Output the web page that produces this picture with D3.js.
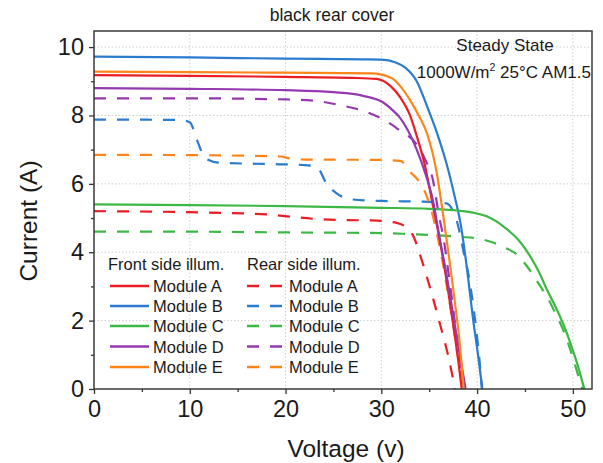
<!DOCTYPE html>
<html><head><meta charset="utf-8">
<script src="https://cdn.jsdelivr.net/npm/d3@7"></script>
<style>
html,body{margin:0;padding:0;background:#fff;}
svg{display:block;font-family:"Liberation Sans",Arial,sans-serif;}
</style>
</head><body>
<svg id="chart" width="603" height="463"></svg>
<script>
// ---- data (Voltage V, Current A) ----
const modules = ["Module A","Module B","Module C","Module D","Module E"];
const colors = ["#ec1c24","#2b7bcf","#3cb944","#9539b0","#ff8419"];
const frontA = [[0,9.18],[10,9.16],[20,9.13],[27,9.1],[29.5,9.07],[31,8.85],[32,8.52],[33,8.0],[33.7,7.4],[34.5,6.6],[35.4,5.35],[36.1,4.36],[36.8,3.2],[37.5,1.9],[38.0,0.9],[38.4,0]];
const frontB = [[0,9.72],[10,9.7],[20,9.66],[28,9.64],[30,9.63],[31.5,9.55],[32.5,9.4],[33.7,9.0],[34.8,8.25],[35.8,7.5],[36.8,6.6],[37.6,5.7],[38.3,4.8],[39.0,3.4],[39.6,2.0],[40.1,1.0],[40.55,0]];
const frontC = [[0,5.4],[10,5.38],[20,5.35],[30,5.3],[35,5.27],[38,5.22],[41,5.05],[43,4.7],[44.5,4.3],[45.5,3.9],[46.5,3.4],[47.3,2.9],[48.2,2.4],[49,1.9],[49.8,1.3],[50.5,0.7],[51.2,0]];
const frontD = [[0,8.8],[10,8.78],[20,8.74],[25,8.68],[28,8.58],[30.2,8.38],[31.2,8.15],[31.9,7.95],[32.8,7.55],[33.7,7.0],[34.6,6.3],[35.4,5.5],[36.1,4.4],[36.9,3.2],[37.6,2.0],[38.2,1.0],[38.8,0]];
const frontE = [[0,9.28],[10,9.27],[20,9.25],[29,9.23],[31,9.1],[32,8.85],[33,8.45],[34,7.95],[34.8,7.45],[35.8,6.3],[36.5,5.0],[37.1,3.8],[37.7,2.5],[38.2,1.3],[38.6,0]];
const rearA = [[0,5.2],[10,5.17],[18.4,5.1],[20.5,5.04],[23.3,4.97],[26,4.94],[29,4.93],[31.6,4.86],[32.5,4.75],[33.2,4.55],[34.3,3.7],[35.2,2.85],[36.1,1.93],[37,0.95],[37.7,0]];
const rearB = [[0,7.88],[9,7.87],[10,7.8],[10.8,7.25],[11.6,6.75],[13,6.62],[18,6.58],[22,6.55],[23.3,6.48],[24.3,6.0],[25.3,5.73],[26.7,5.55],[30,5.5],[34.3,5.48],[36.8,5.43],[37.5,5.2],[37.9,4.9],[38.6,4.0],[39.2,3.2],[39.8,2.0],[40.2,1.0],[40.5,0]];
const rearC = [[0,4.6],[10,4.6],[20,4.58],[30,4.56],[33,4.53],[36.8,4.48],[38.2,4.45],[40.3,4.39],[41.5,4.3],[42.7,4.16],[44.2,3.92],[45.5,3.48],[46.5,3.05],[47.3,2.7],[48.2,2.2],[49,1.72],[49.8,1.1],[50.5,0.45],[51.0,0]];
const rearD = [[0,8.5],[10,8.5],[20,8.47],[23,8.43],[25.7,8.3],[28.5,8.1],[30.6,7.82],[31.9,7.57],[33.7,7.15],[34.6,6.7],[35.4,6.1],[36.0,5.1],[36.5,4.4],[37.2,3.0],[37.8,1.7],[38.2,0.9],[38.6,0]];
const rearE = [[0,6.85],[10,6.84],[19.5,6.8],[20.5,6.74],[22,6.71],[30,6.7],[32,6.67],[33,6.35],[34,6.05],[34.8,5.6],[35.1,5.35],[36.1,4.15],[37.2,2.4],[38.0,0.94],[38.5,0]];
const frontSeries = [frontA,frontB,frontC,frontD,frontE];
const rearSeries = [rearA,rearB,rearC,rearD,rearE];
const xTicks = [0,10,20,30,40,50];
const xMinor = [5,15,25,35,45];
const yTicks = [0,2,4,6,8,10];
const yMinor = [1,3,5,7,9];

// ---- layout ----
const svg = d3.select("#chart");
const L = 94, R = 592, T = 31, B = 389;
const x = d3.scaleLinear().domain([0,52]).range([L,R]);
const y = d3.scaleLinear().domain([0,10.47]).range([B,T]);
const font = '"Liberation Sans",Arial,sans-serif';

// grid
const grid = svg.append("g").attr("stroke","#cfcfcf").attr("stroke-width",1).attr("stroke-dasharray","1.5,2");
xTicks.filter(d=>d>0).forEach(d=>grid.append("line").attr("x1",x(d)).attr("x2",x(d)).attr("y1",T).attr("y2",B));
yTicks.filter(d=>d>0).forEach(d=>grid.append("line").attr("x1",L).attr("x2",R).attr("y1",y(d)).attr("y2",y(d)));

// curves
const line = d3.line().x(d=>x(d[0])).y(d=>y(d[1])).curve(d3.curveMonotoneX);
const plot = svg.append("g");
rearSeries.forEach((s,i)=>plot.append("path").attr("d",line(s)).attr("fill","none")
  .attr("stroke",colors[i]).attr("stroke-width",2.2).attr("stroke-dasharray","12,11"));
frontSeries.forEach((s,i)=>plot.append("path").attr("d",line(s)).attr("fill","none")
  .attr("stroke",colors[i]).attr("stroke-width",2.2));

// axes
function styleAxis(g){ g.select(".domain").remove(); g.selectAll("line").attr("stroke","#333").attr("stroke-width",1.3);
  g.selectAll("text").attr("font-family",font).attr("font-size",23.5).attr("fill","#1a1a1a"); }
svg.append("g").attr("transform",`translate(0,${B})`)
  .call(d3.axisBottom(x).tickValues(xTicks).tickSize(5).tickPadding(6).tickFormat(d3.format("d"))).call(styleAxis);
svg.append("g").attr("transform",`translate(0,${B})`)
  .call(d3.axisBottom(x).tickValues(xMinor).tickSize(3).tickFormat("")).call(styleAxis);
svg.append("g").attr("transform",`translate(${L},0)`)
  .call(d3.axisLeft(y).tickValues(yTicks).tickSize(5).tickPadding(5).tickFormat(d3.format("d"))).call(styleAxis);
svg.append("g").attr("transform",`translate(${L},0)`)
  .call(d3.axisLeft(y).tickValues(yMinor).tickSize(3).tickFormat("")).call(styleAxis);

// frame
svg.append("rect").attr("x",L).attr("y",T).attr("width",R-L).attr("height",B-T)
  .attr("fill","none").attr("stroke","#3a3a3a").attr("stroke-width",1.5);

// titles
svg.append("text").attr("x",332).attr("y",21).attr("text-anchor","middle").attr("font-size",17.5)
  .attr("font-family",font).attr("fill","#1a1a1a").text("black rear cover");
svg.append("text").attr("x",346).attr("y",457).attr("text-anchor","middle").attr("font-size",24.5)
  .attr("font-family",font).attr("fill","#1a1a1a").text("Voltage (v)");
svg.append("text").attr("transform","translate(37,221) rotate(-90)").attr("text-anchor","middle").attr("font-size",24.5)
  .attr("font-family",font).attr("fill","#1a1a1a").text("Current (A)");
svg.append("text").attr("x",505).attr("y",51).attr("text-anchor","middle").attr("font-size",17)
  .attr("font-family",font).attr("fill","#1a1a1a").text("Steady State");
const cond = svg.append("text").attr("x",591).attr("y",78).attr("text-anchor","end").attr("font-size",17)
  .attr("font-family",font).attr("fill","#1a1a1a");
cond.append("tspan").text("1000W/m");
cond.append("tspan").attr("font-size",10.5).attr("dy",-7).text("2");
cond.append("tspan").attr("dy",7).text(" 25°C AM1.5");

// legend
const leg = svg.append("g").attr("font-family",font).attr("font-size",16.5).attr("fill","#1a1a1a");
leg.append("text").attr("x",108).attr("y",270).text("Front side illum.");
leg.append("text").attr("x",247).attr("y",270).text("Rear side illum.");
const rowY = [286,306,326,346.5,367];
modules.forEach((m,i)=>{
  leg.append("line").attr("x1",110).attr("x2",149).attr("y1",rowY[i]).attr("y2",rowY[i])
    .attr("stroke",colors[i]).attr("stroke-width",2.5);
  leg.append("text").attr("x",153).attr("y",rowY[i]+6).text(m);
  leg.append("line").attr("x1",247).attr("x2",283).attr("y1",rowY[i]).attr("y2",rowY[i])
    .attr("stroke",colors[i]).attr("stroke-width",2.5).attr("stroke-dasharray","12,11");
  leg.append("text").attr("x",289).attr("y",rowY[i]+6).text(m);
});
</script>
</body></html>
